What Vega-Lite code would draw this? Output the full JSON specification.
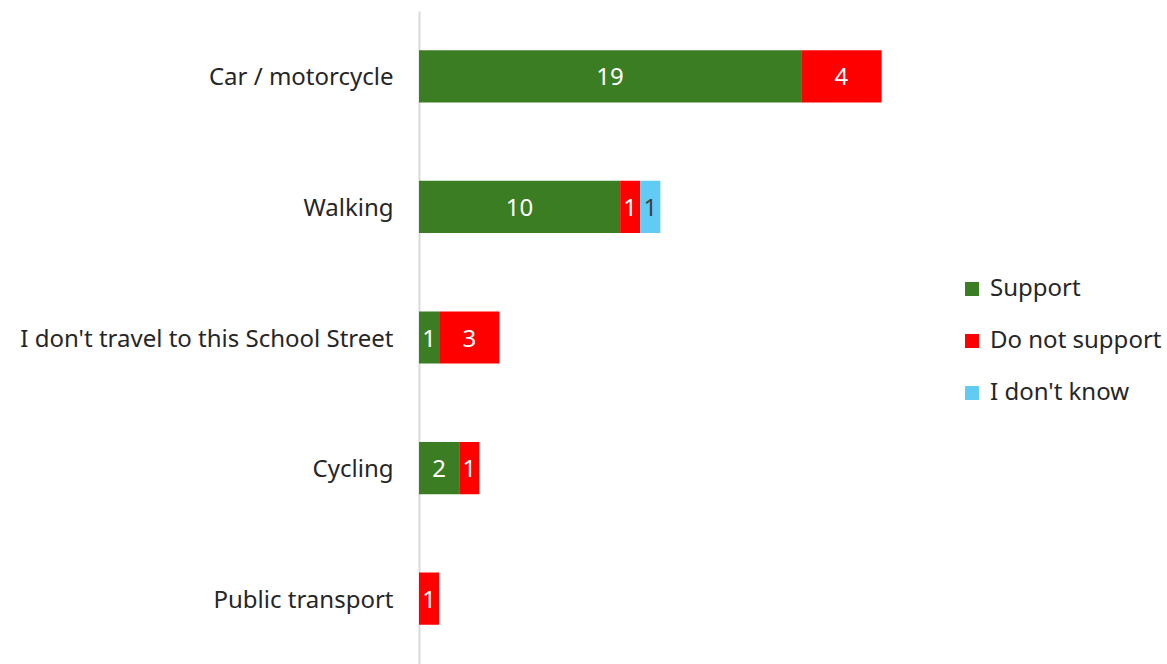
{
  "$schema": "https://vega.github.io/schema/vega-lite/v6.json",
  "width": 523,
  "height": 653,
  "autosize": {"type": "none"},
  "padding": {"left": 419, "top": 11, "right": 225, "bottom": 0},
  "background": "white",
  "config": {
    "view": {"stroke": null},
    "font": "Noto Sans"
  },
  "data": {
    "values": [
      {"mode": "Car / motorcycle", "response": "Support", "ord": 1, "value": 19},
      {"mode": "Car / motorcycle", "response": "Do not support", "ord": 2, "value": 4},
      {"mode": "Walking", "response": "Support", "ord": 1, "value": 10},
      {"mode": "Walking", "response": "Do not support", "ord": 2, "value": 1},
      {"mode": "Walking", "response": "I don't know", "ord": 3, "value": 1},
      {"mode": "I don't travel to this School Street", "response": "Support", "ord": 1, "value": 1},
      {"mode": "I don't travel to this School Street", "response": "Do not support", "ord": 2, "value": 3},
      {"mode": "Cycling", "response": "Support", "ord": 1, "value": 2},
      {"mode": "Cycling", "response": "Do not support", "ord": 2, "value": 1},
      {"mode": "Public transport", "response": "Do not support", "ord": 2, "value": 1}
    ]
  },
  "transform": [
    {"stack": "value", "groupby": ["mode"], "sort": [{"field": "ord"}], "as": ["x0", "x1"]},
    {"calculate": "(datum.x0 + datum.x1) / 2", "as": "mid"}
  ],
  "encoding": {
    "y": {
      "field": "mode",
      "type": "nominal",
      "sort": ["Car / motorcycle", "Walking", "I don't travel to this School Street", "Cycling", "Public transport"],
      "scale": {"paddingInner": 0.6, "paddingOuter": 0.3},
      "axis": {
        "title": null,
        "ticks": false,
        "domainColor": "#D9D9D9",
        "domainWidth": 2,
        "labelFontSize": 24,
        "labelColor": "#262626",
        "labelPadding": 26,
        "labelOffset": 2,
        "labelLimit": 500
      }
    }
  },
  "layer": [
    {
      "mark": {"type": "bar"},
      "encoding": {
        "x": {"field": "x0", "type": "quantitative", "scale": {"domain": [0, 26], "nice": false}, "axis": null},
        "x2": {"field": "x1"},
        "color": {
          "field": "response",
          "type": "nominal",
          "scale": {"domain": ["Support", "Do not support", "I don't know"], "range": ["#3A7D22", "#FF0000", "#61CBF3"]},
          "legend": {
            "title": null,
            "orient": "none",
            "legendX": 541,
            "legendY": 266,
            "symbolType": "square",
            "symbolSize": 196,
            "symbolStrokeWidth": 0,
            "labelFontSize": 24,
            "labelColor": "#262626",
            "labelOffset": 6,
            "labelLimit": 400,
            "rowPadding": 28
          }
        }
      }
    },
    {
      "mark": {"type": "text", "fontSize": 24, "baseline": "middle", "align": "center", "dy": 2},
      "encoding": {
        "x": {"field": "mid", "type": "quantitative"},
        "text": {"field": "value", "type": "quantitative"},
        "color": {
          "condition": {"test": "datum.response === \"I don't know\"", "value": "#404040"},
          "value": "white"
        }
      }
    }
  ]
}
